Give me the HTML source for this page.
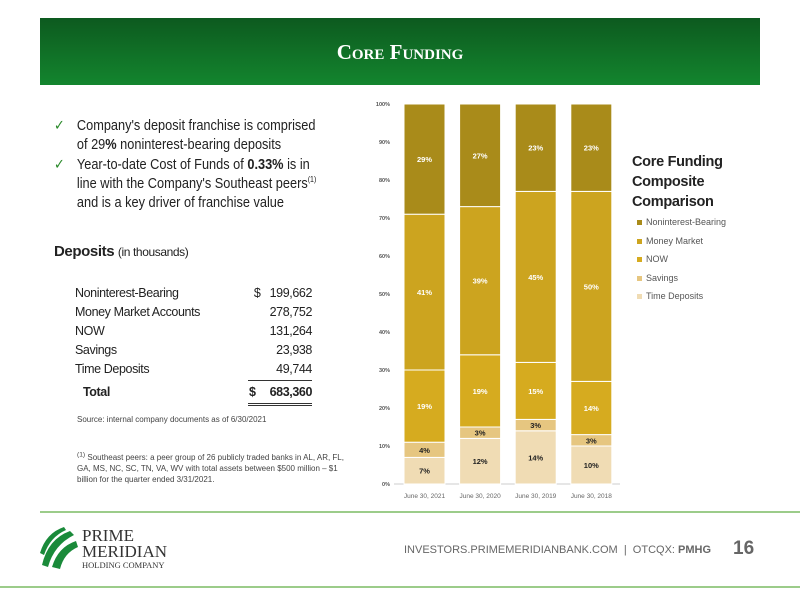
<!DOCTYPE html>
<html><head><meta charset="utf-8">
<style>
body{margin:0;width:800px;height:600px;background:#fff;font-family:"Liberation Sans",sans-serif;position:relative;overflow:hidden;color:#222}
.abs{position:absolute}
.hdr{left:40px;top:18px;width:720px;height:67px;background:linear-gradient(#0d5a1f,#13852e)}
.title{left:0;width:800px;top:40px;text-align:center;color:#fff;font-family:"Liberation Serif",serif;font-weight:bold;font-size:21px}
.title small{font-size:15px}
.bul{left:54px;font-size:14.5px;line-height:19px;color:#222;white-space:nowrap;transform:scaleX(0.88);transform-origin:left}
.chk{color:#2a8a2a;position:absolute;left:0}
.row{position:absolute;left:75px;width:237px;font-size:12.5px;letter-spacing:-0.4px}
.row span{position:absolute;right:0}
sup{line-height:0}
</style></head><body>
<div class="abs hdr"></div>
<div class="abs title">C<small>ORE</small> F<small>UNDING</small></div>

<div class="abs bul" style="top:117px"><span class="chk">✓</span><div style="padding-left:26px">Company's deposit franchise is comprised<br>of 29<b>%</b> noninterest-bearing deposits</div></div>
<div class="abs bul" style="top:156px"><span class="chk">✓</span><div style="padding-left:26px">Year-to-date Cost of Funds of <b>0.33%</b> is in<br>line with the Company's Southeast peers<sup style="font-size:8px">(1)</sup><br>and is a key driver of franchise value</div></div>

<div class="abs" style="left:54px;top:243px;font-size:15px;font-weight:bold;letter-spacing:-0.4px">Deposits <span style="font-weight:normal;font-size:12px">(in thousands)</span></div>
<div>
<div class="row" style="top:286px">Noninterest-Bearing<span>$&nbsp;&nbsp;&nbsp;199,662</span></div>
<div class="row" style="top:305px">Money Market Accounts<span>278,752</span></div>
<div class="row" style="top:324px">NOW<span>131,264</span></div>
<div class="row" style="top:343px">Savings<span>23,938</span></div>
<div class="row" style="top:362px">Time Deposits<span>49,744</span></div>
<div class="abs" style="left:248px;top:380px;width:64px;border-top:1px solid #333"></div>
<div class="row" style="top:385px;font-weight:bold;left:83px;width:229px">Total<span><span style="position:static;margin-right:14px">$</span>683,360</span></div>
<div class="abs" style="left:248px;top:403px;width:64px;border-top:3px double #333;height:2px"></div>
</div>
<div class="abs" style="left:77px;top:415px;font-size:8px;color:#444">Source: internal company documents as of 6/30/2021</div>
<div class="abs" style="left:77px;top:452px;width:270px;font-size:8px;line-height:11px;color:#444"><sup>(1)</sup> Southeast peers: a peer group of 26 publicly traded banks in AL, AR, FL, GA, MS, NC, SC, TN, VA, WV with total assets between $500 million – $1 billion for the quarter ended 3/31/2021.</div>

<svg class="abs" style="left:0;top:0" width="800" height="600" id="chart"></svg>

<div class="abs" style="left:632px;top:152px;font-size:14.5px;font-weight:bold;line-height:20px;letter-spacing:-0.3px">Core Funding<br>Composite<br>Comparison</div>
<div id="legend"></div>

<div class="abs" style="left:40px;top:511px;width:760px;border-top:2px solid #9ccc8a"></div>
<div class="abs" style="left:0;top:586px;width:800px;border-top:2px solid #9ccc8a"></div>
<svg class="abs" style="left:38px;top:525px" width="40" height="46">
<path d="M4 40 Q10 14 32 6 L36 10 Q16 20 10 42Z" fill="#1a8a3a"/><path d="M14 42 Q20 22 38 16 L40 22 Q26 28 22 44Z" fill="#1a8a3a"/><path d="M2 28 Q8 8 26 2 L28 5 Q12 12 6 30Z" fill="#1a8a3a"/></svg>
<div class="abs" style="left:82px;top:528px;font-family:'Liberation Serif',serif;font-size:17px;line-height:16px;color:#333">PRIME<br>MERIDIAN<div style="font-size:8.5px;line-height:11px">HOLDING COMPANY</div></div>
<div class="abs" style="left:404px;top:544px;font-size:11px;color:#666">INVESTORS.PRIMEMERIDIANBANK.COM &nbsp;|&nbsp; OTCQX: <b>PMHG</b></div>
<div class="abs" style="left:733px;top:538px;font-size:19px;font-weight:bold;color:#666">16</div>

<script>
const categories=["June 30, 2021","June 30, 2020","June 30, 2019","June 30, 2018"];
const seriesNames=["Time Deposits","Savings","NOW","Money Market","Noninterest-Bearing"];
const timeDeposits=[7,12,14,10];
const savings=[4,3,3,3];
const now=[19,19,15,14];
const moneyMarket=[41,39,45,50];
const nonInterest=[29,27,23,23];
const yTicks=[0,10,20,30,40,50,60,70,80,90,100];
const yTickLabels=["0%","10%","20%","30%","40%","50%","60%","70%","80%","90%","100%"];
const series=[timeDeposits,savings,now,moneyMarket,nonInterest];
const colors=["#f0dcb4","#e6c680","#d6ab1f","#cca41f","#a98b1a"];
const labelColors=["#222","#222","#fff","#fff","#fff"];
const NS="http://www.w3.org/2000/svg";
const svg=document.getElementById('chart');
const y0=484,y1=104,xL=394,step=55.6,bw=41;
const yS=v=>y0-(v/100)*(y0-y1);
const xS=i=>xL+10+i*step;
function mk(t,a){const e=document.createElementNS(NS,t);for(const k in a)e.setAttribute(k,a[k]);svg.appendChild(e);return e;}
yTicks.forEach((t,i)=>{const e=mk('text',{x:390,y:yS(t)+2,'text-anchor':'end','font-size':'5.5',fill:'#555','font-weight':'bold'});e.textContent=yTickLabels[i];

});
const ax=mk('line',{x1:xL,x2:620,y1:y0,y2:y0,stroke:'#ccc'});


categories.forEach((c,i)=>{let acc=0;
series.forEach((s,j)=>{const v=s[i];
const r=mk('rect',{x:xS(i),y:yS(acc+v),width:bw,height:yS(acc)-yS(acc+v),fill:colors[j],stroke:'#fff','stroke-width':1});


const t=mk('text',{x:xS(i)+bw/2,y:yS(acc+v/2)+3,'text-anchor':'middle','font-size':'7.5','font-weight':'bold',fill:labelColors[j]});t.textContent=v+'%';


acc+=v;});
const l=mk('text',{x:xS(i)+bw/2,y:498,'text-anchor':'middle','font-size':'6.5',fill:'#666'});l.textContent=c;

});
const lg=document.getElementById('legend');
const order=[4,3,2,1,0];
order.forEach((j,k)=>{const d=document.createElement('div');d.className='abs';
d.style.cssText=`left:637px;top:${217+k*18.5}px;font-size:9px;color:#555`;
d.innerHTML=`<span style="display:inline-block;width:5px;height:5px;background:${colors[j]};margin-right:4px;vertical-align:middle"></span>${seriesNames[j]}`;


lg.appendChild(d);});
</script>
</body></html>
